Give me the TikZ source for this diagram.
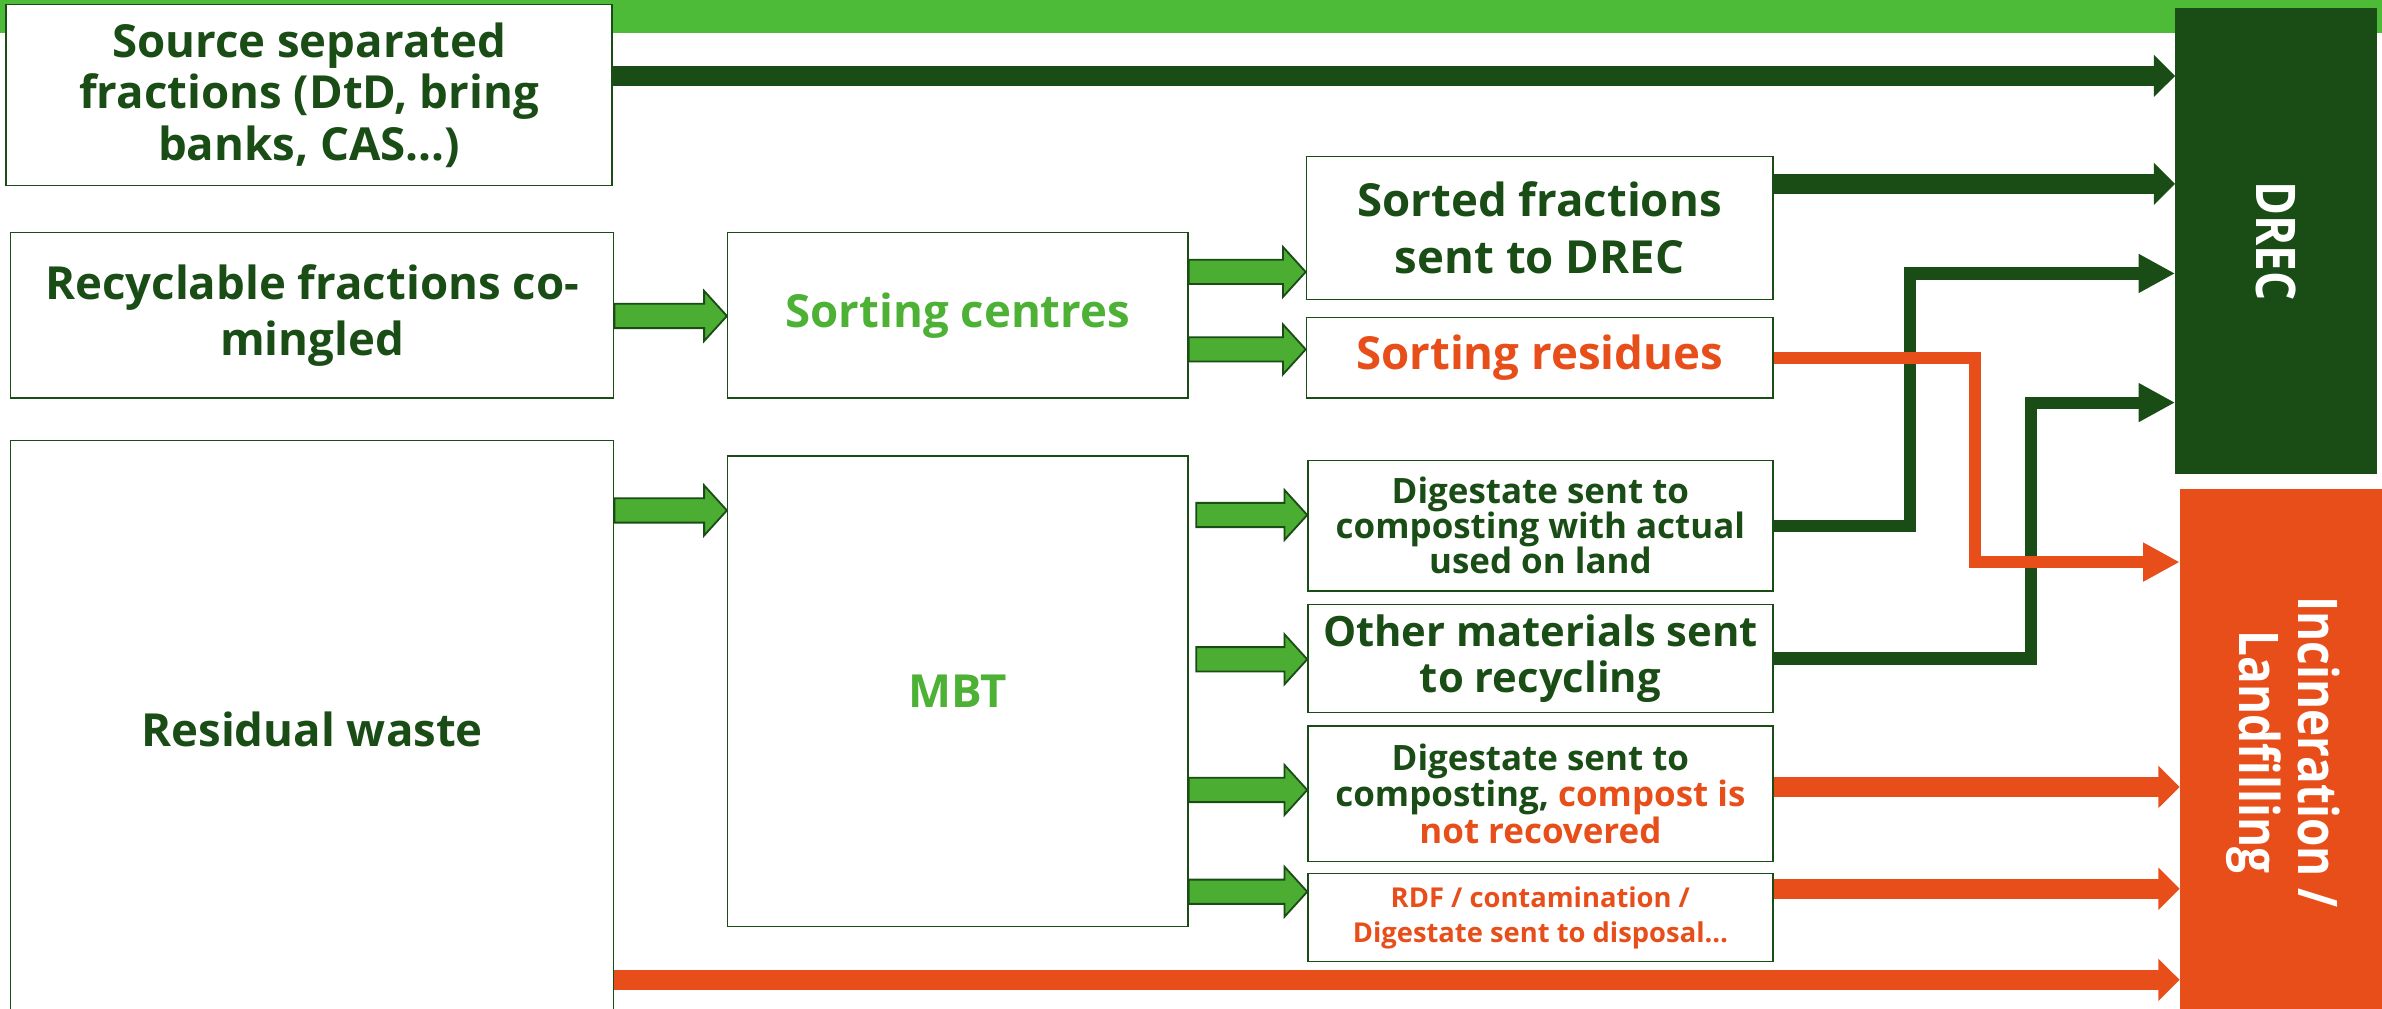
\documentclass[tikz,border=0pt]{standalone}
\usepackage{fontspec}
\usepackage{graphicx}
\setmainfont{Open Sans}
\newfontfamily\sidefont{Open Sans}[FakeStretch=0.84]
\usetikzlibrary{arrows.meta,calc}

\definecolor{dkgreen}{HTML}{1A4D16}
\definecolor{ltgreen}{HTML}{4DB135}
\definecolor{bandgreen}{HTML}{4DBB37}
\definecolor{arrgreen}{HTML}{4CAD33}
\definecolor{waste}{HTML}{E84E1A}

\begin{document}
\begin{tikzpicture}[x=1pt,y=-1pt,
  box/.style={draw=dkgreen,line width=1pt,fill=white,inner sep=0pt,align=center,text=dkgreen},
  fs/.style 2 args={font=\bfseries\fontsize{#1}{#2}\selectfont},
  sidebox/.style={inner sep=0pt,text=white,font=\sidefont\bfseries\fontsize{36}{39}\selectfont},
  blockarrow/.style={draw=dkgreen,fill=arrgreen,line width=1.2pt,line join=miter},
  bigflow/.style={line width=13pt,-{Triangle[length=14pt,width=27pt]}},
  bendflow/.style={line width=8pt,-{Triangle[length=24pt,width=24pt]}}]
\useasboundingbox (0,0) rectangle (1568,664);

% band
\path[fill=bandgreen] (0,0) rectangle (1568,22);

% sources
\node[box,fs={30}{34},minimum width=399pt,minimum height=119pt] (src) at (203.5,62.5)
  {Source separated\\fractions (DtD, bring\\banks, CAS…)};
\node[box,fs={30}{37},minimum width=397pt,minimum height=109pt] (rec) at (205.5,207.5)
  {Recyclable fractions co-\\mingled};
\node[box,fs={30}{36},minimum width=397pt,minimum height=380pt] (res) at (205.5,480)
  {Residual waste};

% treatment
\node[box,fs={30}{36},text=ltgreen,minimum width=303pt,minimum height=109pt] (sc) at (630.5,207.5)
  {Sorting centres};
\node[box,fs={30}{36},text=ltgreen,minimum width=303pt,minimum height=310pt] (mbt) at (630.5,455)
  {MBT};

% outputs
\node[box,fs={30}{37},minimum width=307pt,minimum height=94pt] (sf) at (1013.5,150)
  {Sorted fractions\\sent to DREC};
\node[box,fs={30}{36},text=waste,minimum width=307pt,minimum height=53pt] (sr) at (1013.5,235.5)
  {Sorting residues};
\node[box,fs={23}{23},minimum width=306pt,minimum height=86pt] (dl) at (1014,346)
  {Digestate sent to\\composting with actual\\used on land};
\node[box,fs={27.5}{30},minimum width=306pt,minimum height=71pt] (om) at (1014,433.5)
  {Other materials sent\\to recycling};
\node[box,fs={23}{24},minimum width=306pt,minimum height=89pt] (dn) at (1014,522.5)
  {Digestate sent to\\composting, \textcolor{waste}{compost is}\\\textcolor{waste}{not recovered}};
\node[box,fs={18}{23},text=waste,minimum width=306pt,minimum height=58pt] (rdf) at (1014,604)
  {RDF / contamination /\\Digestate sent to disposal…};

% destinations
\node[sidebox,fill=dkgreen,minimum width=133pt,minimum height=307pt] (drec) at (1498.5,158.5)
  {\rotatebox{-90}{DREC}};
\node[sidebox,fill=waste,minimum width=133pt,minimum height=346pt] (inc) at (1501.5,495)
  {\rotatebox{-90}{\begin{tabular}{@{}c@{}}Incineration /\\Landfilling\end{tabular}}};

\newcommand\greenarrow[3]{% from, to, height
  \path[blockarrow] let \p1=(#1 |- 0,#3), \p2=(#2 |- 0,#3) in
    (\x1,{\y1+8pt}) -- ({\x2-15pt},{\y1+8pt}) -- ({\x2-15pt},{\y1+16.5pt}) -- (\x2,\y1)
    -- ({\x2-15pt},{\y1-16.5pt}) -- ({\x2-15pt},{\y1-8pt}) -- (\x1,{\y1-8pt}) -- cycle;}
% block arrows
\greenarrow{rec.east}{sc.west}{208}
\greenarrow{res.east}{mbt.west}{336}
\greenarrow{sc.east}{sf.west}{179}
\greenarrow{sc.east}{sr.west}{230}
\greenarrow{[xshift=5pt]mbt.east}{dl.west}{339}
\greenarrow{[xshift=5pt]mbt.east}{om.west}{434}
\greenarrow{mbt.east}{dn.west}{520}
\greenarrow{mbt.east}{rdf.west}{587}

% flows to DREC
\draw[dkgreen,bigflow] (src.east |- 0,50) -- (drec.west |- 0,50);
\draw[dkgreen,bigflow] (sf.east |- 0,121) -- (drec.west |- 0,121);
\draw[dkgreen,bendflow] (dl.east) -| (1257,180) -- (drec.west |- 0,180);
\draw[dkgreen,bendflow] (om.east) -| (1337,265) -- (drec.west |- 0,265);

% flows to incineration / landfilling
\draw[waste,bendflow] (sr.east) -| (1300,370) -- (inc.west |- 0,370);
\draw[waste,bigflow] (dn.east |- 0,518) -- (inc.west |- 0,518);
\draw[waste,bigflow] (rdf.east |- 0,585) -- (inc.west |- 0,585);
\draw[waste,bigflow] (res.east |- 0,645) -- (inc.west |- 0,645);
\end{tikzpicture}
\end{document}
